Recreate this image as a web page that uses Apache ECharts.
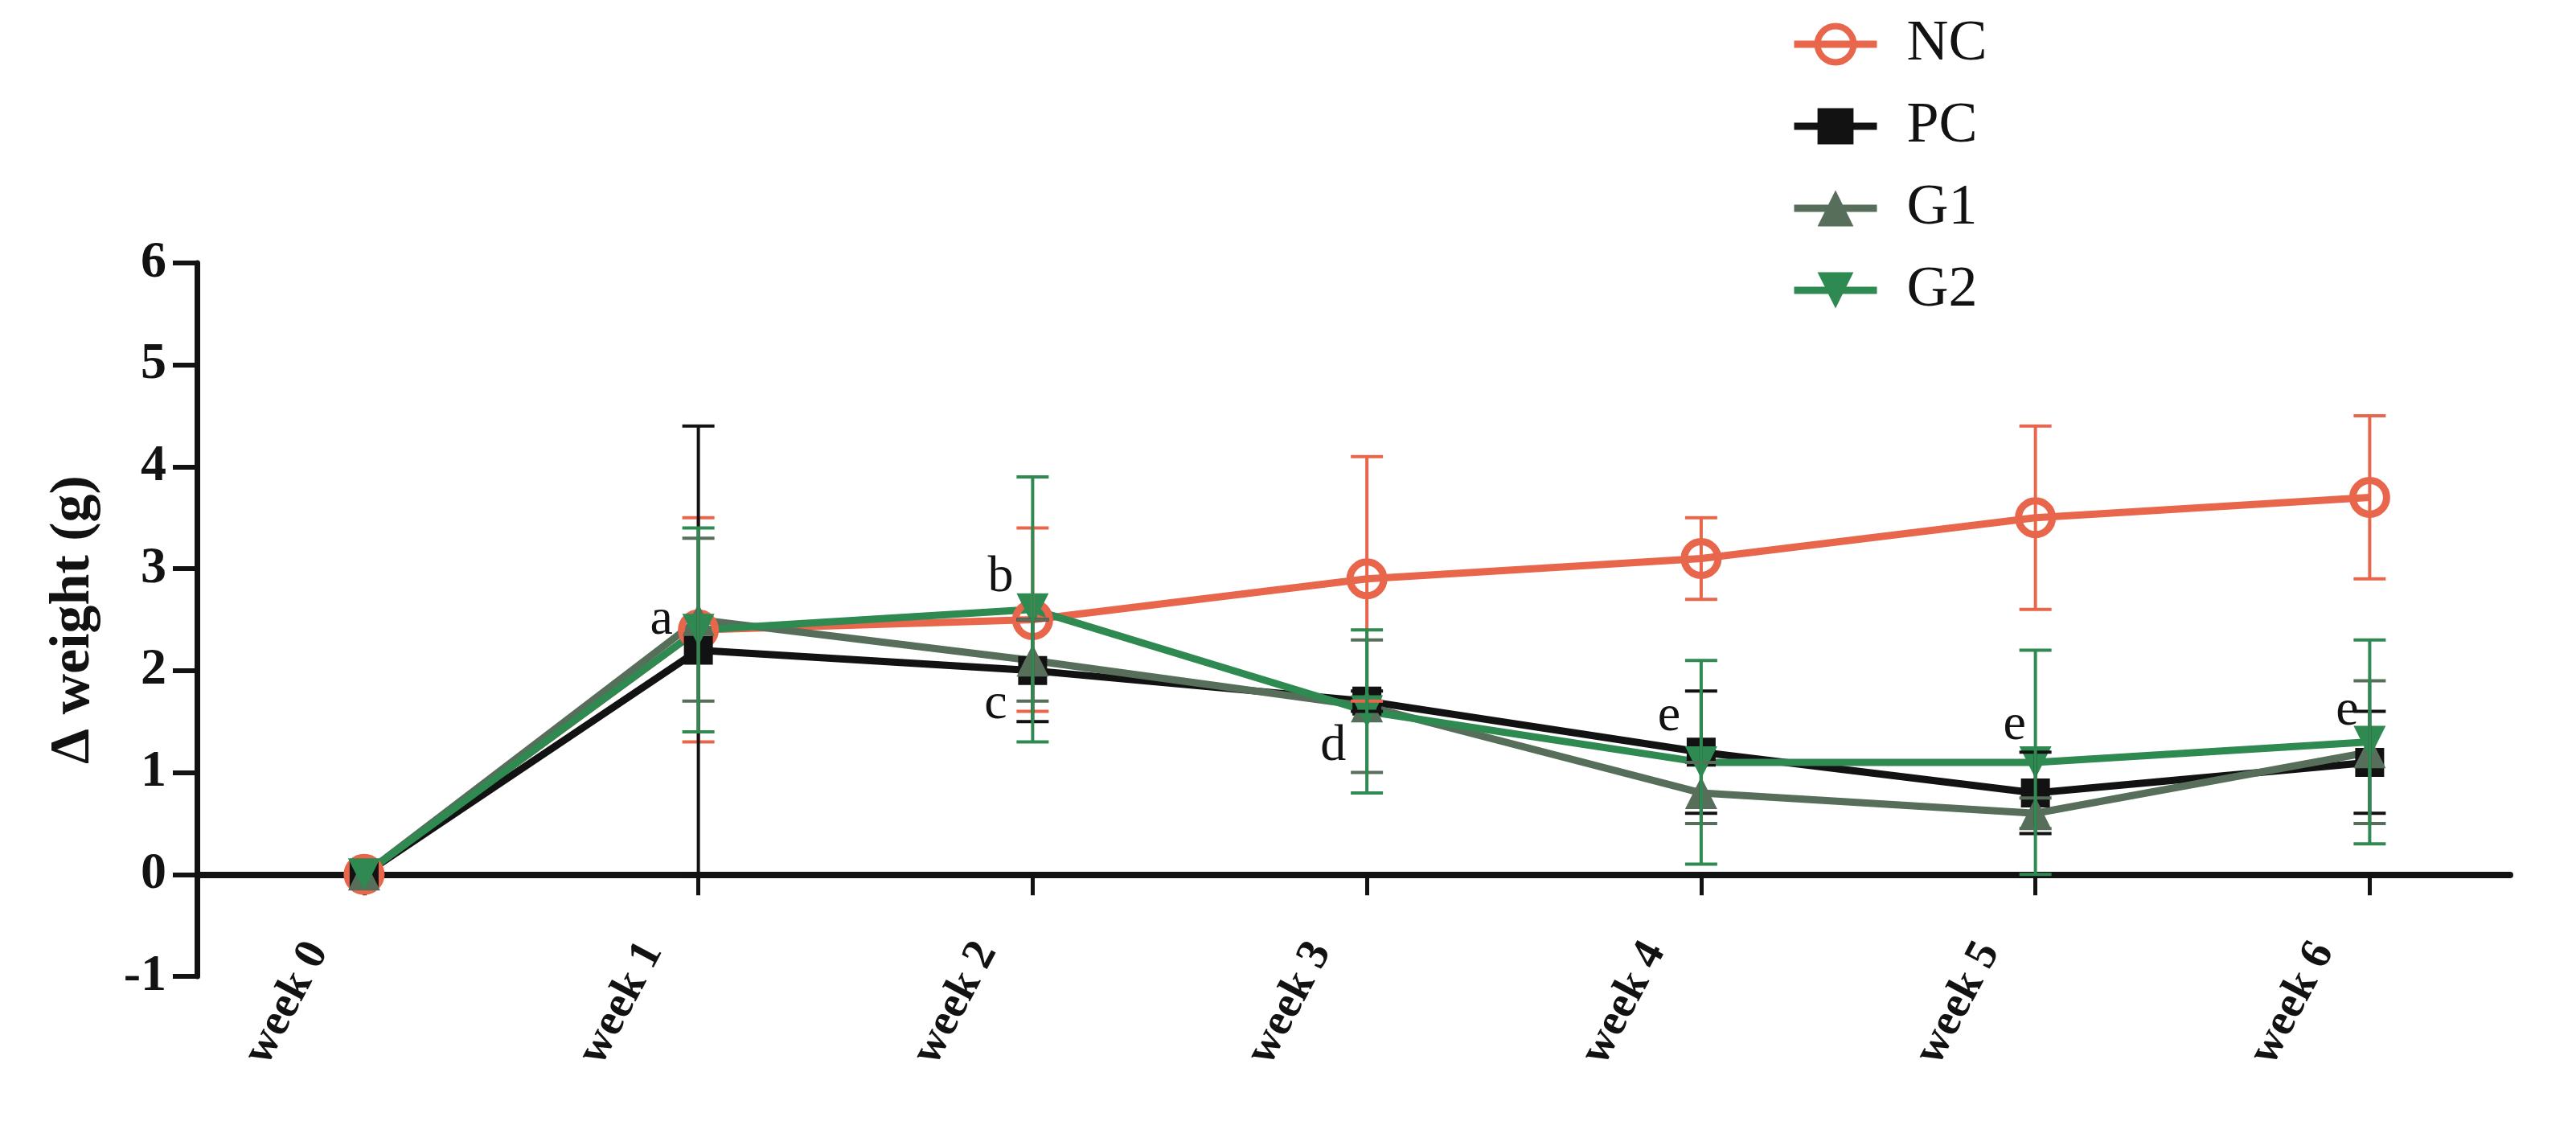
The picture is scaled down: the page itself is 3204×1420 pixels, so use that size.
<!DOCTYPE html>
<html>
<head>
<meta charset="utf-8">
<title>Δ weight</title>
<script src="https://cdn.jsdelivr.net/npm/echarts@6/dist/echarts.min.js"></script>
<style>
  html, body { margin: 0; padding: 0; background: #fff; }
  #chart { width: 3204px; height: 1420px; }
</style>
</head>
<body>
<div id="chart"></div>
<script>
// weeks on the x axis
const weeks = [0, 1, 2, 3, 4, 5, 6];
const yTicks = [-1, 0, 1, 2, 3, 4, 5, 6];

// group means (g)
const ncMean = [0, 2.4, 2.5, 2.9, 3.1, 3.5, 3.7];
const pcMean = [0, 2.2, 2.0, 1.7, 1.2, 0.8, 1.1];
const g1Mean = [0, 2.5, 2.1, 1.65, 0.8, 0.6, 1.2];
const g2Mean = [0, 2.4, 2.6, 1.6, 1.1, 1.1, 1.3];

// error bar half-lengths (SD)
const ncSd = [0, 1.1, 0.9, 1.2, 0.4, 0.9, 0.8];
const pcSd = [0, 2.2, 0.5, 0.1, 0.6, 0.4, 0.5];
const g1Sd = [0, 0.8, 0.4, 0.65, 0.3, 0.15, 0.7];
const g2Sd = [0, 1.0, 1.3, 0.8, 1.0, 1.1, 1.0];

// significance letters, placed next to a group's point
const letters = [
  { group: 'G2', week: 1, text: 'a', offset: [-46, -12] },
  { group: 'G2', week: 2, text: 'b', offset: [-40, -40] },
  { group: 'PC', week: 2, text: 'c', offset: [-46, 42] },
  { group: 'G2', week: 3, text: 'd', offset: [-42, 44] },
  { group: 'PC', week: 4, text: 'e', offset: [-40, -44] },
  { group: 'G2', week: 5, text: 'e', offset: [-26, -46] },
  { group: 'G2', week: 6, text: 'e', offset: [-28, -38] }
];

const serif = 'Liberation Serif';
const ink = '#121212';

const groups = [
  { name: 'NC', mean: ncMean, sd: ncSd, color: '#E8664B', symbol: 'circle', size: 42, rotate: 0 },
  { name: 'PC', mean: pcMean, sd: pcSd, color: '#121212', symbol: 'rect', size: 36, rotate: 0 },
  { name: 'G1', mean: g1Mean, sd: g1Sd, color: '#566E5A', symbol: 'triangle', size: 40, rotate: 0 },
  { name: 'G2', mean: g2Mean, sd: g2Sd, color: '#2F8A52', symbol: 'triangle', size: 40, rotate: 180 }
];

const chart = echarts.init(document.getElementById('chart'), null, { renderer: 'canvas' });

function lineSeries(g) {
  const data = weeks.map((w, i) => {
    const item = { value: [w, g.mean[i]] };
    const l = letters.find(m => m.group === g.name && m.week === w);
    if (l) {
      item.label = {
        show: true, formatter: l.text, position: 'inside', offset: l.offset,
        fontFamily: serif, fontSize: 64, color: ink
      };
    }
    return item;
  });
  const hollow = g.symbol === 'circle';
  return {
    name: g.name,
    type: 'line',
    data: data,
    symbol: g.symbol,
    symbolSize: g.size,
    symbolRotate: g.rotate,
    showAllSymbol: true,
    lineStyle: { color: g.color, width: 9 },
    itemStyle: hollow
      ? { color: 'rgba(255,255,255,0)', borderColor: g.color, borderWidth: 9 }
      : { color: g.color, borderWidth: 0 },
    emphasis: { disabled: true },
    z: 2
  };
}

function errorSeries(g) {
  return {
    name: g.name + ' err',
    type: 'custom',
    data: weeks.map((w, i) => [w, g.mean[i] - g.sd[i], g.mean[i] + g.sd[i]]),
    encode: { x: 0, y: [1, 2] },
    z: 3,
    silent: true,
    renderItem: function (params, api) {
      const lo = api.value(1), hi = api.value(2);
      if (hi - lo <= 0) return null;
      const p0 = api.coord([api.value(0), lo]);
      const p1 = api.coord([api.value(0), hi]);
      const cap = 20;
      const style = { stroke: g.color, lineWidth: 4 };
      return {
        type: 'group',
        children: [
          { type: 'line', shape: { x1: p0[0], y1: p0[1], x2: p1[0], y2: p1[1] }, style: style },
          { type: 'line', shape: { x1: p0[0] - cap, y1: p0[1], x2: p0[0] + cap, y2: p0[1] }, style: style },
          { type: 'line', shape: { x1: p1[0] - cap, y1: p1[1], x2: p1[0] + cap, y2: p1[1] }, style: style }
        ]
      };
    }
  };
}

const option = {
  animation: false,
  backgroundColor: '#fff',
  grid: { left: 245, right: 82, top: 327, bottom: 206, outerBoundsMode: 'none', containLabel: false },
  legend: {
    data: groups.map(g => ({
      name: g.name,
      itemStyle: g.symbol === 'circle' ? { borderWidth: 8 } : {}
    })),
    orient: 'vertical',
    left: 2222,
    top: 14,
    itemWidth: 103,
    itemHeight: 56,
    itemGap: 30,
    lineStyle: { width: 9 },
    textStyle: { fontFamily: serif, fontSize: 72, lineHeight: 72, color: ink, padding: [0, 0, 0, 32] }
  },
  xAxis: {
    type: 'value',
    min: -0.5,
    max: 6.42,
    splitLine: { show: false },
    axisLine: { onZero: true, lineStyle: { color: ink, width: 8 } },
    axisTick: { inside: false, length: 26, lineStyle: { color: ink, width: 5 }, customValues: weeks },
    axisLabel: {
      customValues: weeks,
      formatter: v => 'week ' + v,
      rotate: 62,
      margin: -8,
      verticalAlign: 'bottom',
      lineHeight: 130,
      fontFamily: serif,
      fontWeight: 'bold',
      fontSize: 56,
      color: ink
    }
  },
  yAxis: {
    type: 'value',
    min: -1,
    max: 6,
    interval: 1,
    splitLine: { show: false },
    axisLine: { show: true, onZero: false, lineStyle: { color: ink, width: 7 } },
    axisTick: { show: true, inside: false, length: 30, lineStyle: { color: ink, width: 6 } },
    axisLabel: {
      margin: 38,
      fontFamily: serif,
      fontWeight: 'bold',
      fontSize: 64,
      color: ink,
      customValues: yTicks
    },
    name: 'Δ weight (g)',
    nameLocation: 'middle',
    nameRotate: 90,
    nameGap: 118,
    nameTextStyle: { fontFamily: serif, fontWeight: 'bold', fontSize: 70, color: ink }
  },
  series: groups.map(lineSeries).concat(groups.map(errorSeries))
};

chart.setOption(option);
</script>
</body>
</html>
